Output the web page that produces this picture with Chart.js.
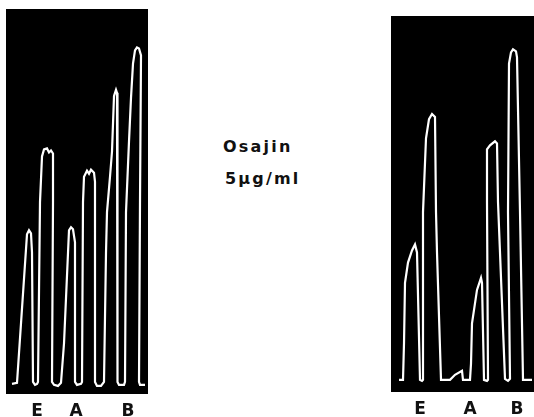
<!DOCTYPE html>
<html>
<head>
<meta charset="utf-8">
<script src="https://cdn.jsdelivr.net/npm/chart.js@4.4.1/dist/chart.umd.min.js"></script>
<style>
  html, body { margin: 0; padding: 0; background: #fff; width: 534px; height: 417px; overflow: hidden; }
  .panel { position: absolute; }
  .txt { position: absolute; font-family: "DejaVu Sans", sans-serif; font-weight: bold; font-size: 16px; line-height: 16px; letter-spacing: 2.2px; color: #111; white-space: nowrap; }
</style>
</head>
<body>
<div class="panel" id="p1" style="left:6px; top:9px; width:142px; height:420px;"><canvas id="c1"></canvas></div>
<div class="panel" id="p2" style="left:391px; top:16px; width:143px; height:411px;"><canvas id="c2"></canvas></div>
<div class="txt" style="left:223px; top:139px;">Osajin</div>
<div class="txt" style="left:225px; top:171px;">5μg/ml</div>
<script>
// Trace of the left recording (time units, signal above baseline)
const leftX = [6, 11, 21, 23, 25, 26, 27, 29, 31, 32, 34, 36, 38, 41, 43, 45, 47, 47, 46, 48, 52, 55, 58, 63, 65, 67, 69, 69, 71, 75, 76, 77, 78, 81, 83, 85, 88, 89, 89, 91, 95, 98, 100, 101, 104, 106, 108, 110, 111, 111, 112, 113, 118, 119, 120, 123, 125, 127, 129, 131, 133, 135, 134, 133, 134, 139];
const leftY = [0, 1, 148, 152, 149, 130, 2, -1, 0, 2, 180, 225, 232, 233, 229, 231, 228, 180, 2, -1, -2, 1, 40, 152, 155, 153, 140, 2, -1, 0, 2, 180, 205, 211, 208, 212, 209, 200, 2, -2, -2, 2, 130, 170, 205, 230, 285, 291, 288, 230, 2, -1, -1, 2, 170, 240, 283, 317, 330, 333, 332, 325, 180, 2, -1, -1];
// Trace of the right recording
const rightX = [8, 12, 13, 14, 17, 21, 24, 26, 29, 31, 32, 32, 35, 38, 41, 44, 45, 46, 50, 59, 64, 71, 72, 79, 80, 81, 86, 90, 91, 93, 96, 97, 96, 96, 99, 104, 106, 107, 114, 117, 119, 117, 118, 120, 122, 125, 126, 129, 132, 141];
const rightY = [0, 0, 36, 96, 116, 128, 134, 126, 0, -1, 0, 166, 239, 258, 263, 260, 166, 126, 0, 0, 5, 9, 0, 0, 16, 56, 89, 101, 96, 0, -1, 0, 176, 228, 232, 236, 234, 176, 1, -1, 1, 166, 313, 324, 327, 325, 319, 166, 0, 0];
const tickLabels = ["E", "A", "B"];
const leftTickPos = [31, 70, 122];
const rightTickPos = [29, 79, 126];

const blackArea = {
  id: 'blackArea',
  beforeDatasetsDraw(chart) {
    const { ctx, chartArea: a } = chart;
    ctx.save();
    ctx.fillStyle = '#000';
    ctx.fillRect(a.left, a.top, a.right - a.left, a.bottom - a.top);
    ctx.restore();
  }
};

function makeChart(id, xs, ys, ticks, xMax, yMin, yMax, pad) {
  const pts = xs.map((x, i) => ({ x: x, y: ys[i] }));
  return new Chart(document.getElementById(id), {
    type: 'scatter',
    data: { datasets: [{ data: pts, showLine: true, borderColor: '#fff', borderWidth: 2.2, pointRadius: 0, tension: 0, fill: false }] },
    options: {
      responsive: true, maintainAspectRatio: false, animation: false,
      layout: { padding: 0 },
      plugins: { legend: { display: false }, tooltip: { enabled: false } },
      scales: {
        x: {
          type: 'linear', min: 0, max: xMax,
          border: { display: false },
          grid: { display: false, drawTicks: false },
          afterBuildTicks: (axis) => { axis.ticks = ticks.map(v => ({ value: v })); },
          ticks: {
            autoSkip: false, maxRotation: 0, padding: pad, color: '#111',
            font: { family: 'DejaVu Sans', size: 17, weight: 'bold', lineHeight: 1 },
            callback: (v, i) => tickLabels[i]
          }
        },
        y: { display: false, min: yMin, max: yMax }
      }
    },
    plugins: [blackArea]
  });
}

makeChart('c1', leftX, leftY, leftTickPos, 142, -10, 371, 9);
makeChart('c2', rightX, rightY, rightTickPos, 143, -12, 360, 9);
</script>
</body>
</html>
